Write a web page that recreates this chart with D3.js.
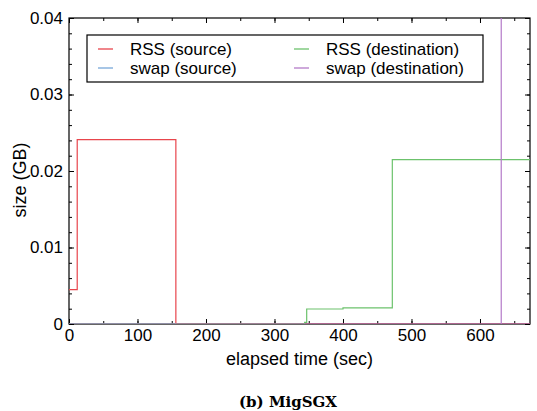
<!DOCTYPE html>
<html>
<head>
<meta charset="utf-8">
<script src="https://cdn.jsdelivr.net/npm/d3@7"></script>
<style>
  body { margin: 0; background: #fff; }
  svg { font-family: "Liberation Sans", Arial, sans-serif; }
</style>
</head>
<body>
<svg id="chart" width="537" height="411"></svg>
<script>
// step series: [elapsed sec, size GB]
const rssSource = [[0, 0.0045], [12, 0.0045], [12, 0.0241], [156, 0.0241], [156, 0], [673, 0]];
const swapSource = [[0, 0], [156, 0]];
const rssDest = [[0, 0], [344, 0], [344, 0.0002], [347, 0.0002], [347, 0.00196], [400, 0.00196],
                 [400, 0.0021], [472, 0.0021], [472, 0.0215], [673, 0.0215]];
const swapDest = [[0, 0], [631, 0], [631, 0.2], [631, 0], [673, 0]];

const seriesNames = ["RSS (source)", "swap (source)", "RSS (destination)", "swap (destination)"];
const seriesColors = ["#e8454c", "#78a8d8", "#6cc26c", "#b47ac8"];
const xTicks = [0, 100, 200, 300, 400, 500, 600];
const yTicks = [0, 0.01, 0.02, 0.03, 0.04];

const svg = d3.select("#chart");
const margin = { left: 69, top: 18, right: 7, bottom: 87 };
const width = 537 - margin.left - margin.right;
const height = 411 - margin.top - margin.bottom;

const x = d3.scaleLinear().domain([0, 673]).range([0, width]);
const y = d3.scaleLinear().domain([0, 0.04]).range([height, 0]);

const g = svg.append("g").attr("transform", `translate(${margin.left},${margin.top})`);

g.append("defs").append("clipPath").attr("id", "clip")
  .append("rect").attr("width", width).attr("height", height);

// ticks on all four sides, pointing inward
const xMinor = d3.range(0, 673, 50);
const yMinor = d3.range(0, 0.0401, 0.002);
const axisStyle = sel => {
  sel.select(".domain").remove();
  sel.selectAll("line").attr("stroke", "#000");
};

g.append("g").attr("transform", `translate(0,${height})`)
  .call(d3.axisBottom(x).tickValues(xMinor).tickSize(-3).tickFormat(""))
  .call(axisStyle);
g.append("g")
  .call(d3.axisTop(x).tickValues(xMinor).tickSize(-3).tickFormat(""))
  .call(axisStyle);
g.append("g").call(d3.axisLeft(y).tickValues(yMinor).tickSize(-3).tickFormat(""))
  .call(axisStyle);
g.append("g").attr("transform", `translate(${width},0)`)
  .call(d3.axisRight(y).tickValues(yMinor).tickSize(-3).tickFormat(""))
  .call(axisStyle);

const xAxis = g.append("g").attr("transform", `translate(0,${height})`)
  .call(d3.axisBottom(x).tickValues(xTicks).tickSize(-5).tickPadding(5).tickFormat(d3.format("d")))
  .call(axisStyle);
xAxis.selectAll("text").attr("font-size", 17).attr("fill", "#000");
g.append("g")
  .call(d3.axisTop(x).tickValues(xTicks).tickSize(-5).tickFormat(""))
  .call(axisStyle);

const yAxis = g.append("g")
  .call(d3.axisLeft(y).tickValues(yTicks).tickSize(-5).tickPadding(6)
    .tickFormat(d => d === 0 ? "0" : d3.format(".2f")(d)))
  .call(axisStyle);
yAxis.selectAll("text").attr("font-size", 17).attr("fill", "#000");
g.append("g").attr("transform", `translate(${width},0)`)
  .call(d3.axisRight(y).tickValues(yTicks).tickSize(-5).tickFormat(""))
  .call(axisStyle);

// frame
g.append("rect").attr("width", width).attr("height", height)
  .attr("fill", "none").attr("stroke", "#000").attr("stroke-width", 1.2);

// data lines
const line = d3.line().x(d => x(d[0])).y(d => y(d[1]));
const allSeries = [rssSource, swapSource, rssDest, swapDest];
g.append("g").attr("clip-path", "url(#clip)")
  .selectAll("path").data(allSeries).join("path")
  .attr("d", line)
  .attr("fill", "none")
  .attr("stroke", (d, i) => seriesColors[i])
  .attr("stroke-width", 1.2);

// legend
const legend = g.append("g");
legend.append("rect")
  .attr("x", 87 - margin.left).attr("y", 35 - margin.top)
  .attr("width", 396).attr("height", 47)
  .attr("fill", "#fff").attr("stroke", "#000").attr("stroke-width", 1.2);
const legendPos = [[98, 49], [98, 68], [294, 49], [294, 68]];
seriesNames.forEach((name, i) => {
  const [lx, ly] = legendPos[i];
  legend.append("line")
    .attr("x1", lx - margin.left).attr("x2", lx + 15 - margin.left)
    .attr("y1", ly - margin.top).attr("y2", ly - margin.top)
    .attr("stroke", seriesColors[i]).attr("stroke-width", 1.3);
  legend.append("text")
    .attr("x", lx + 32 - margin.left).attr("y", ly - margin.top + 5.5)
    .attr("font-size", 17).text(name);
});

// axis titles
svg.append("text")
  .attr("x", margin.left + width / 2).attr("y", 365)
  .attr("text-anchor", "middle").attr("font-size", 18)
  .text("elapsed time (sec)");
svg.append("text")
  .attr("transform", "translate(26,180) rotate(-90)")
  .attr("text-anchor", "middle").attr("font-size", 18)
  .text("size (GB)");

// caption
svg.append("text")
  .attr("x", 288).attr("y", 407)
  .attr("text-anchor", "middle")
  .attr("font-family", "'DejaVu Serif', serif")
  .attr("font-weight", "bold").attr("font-size", 15)
  .text("(b) MigSGX");
</script>
</body>
</html>
